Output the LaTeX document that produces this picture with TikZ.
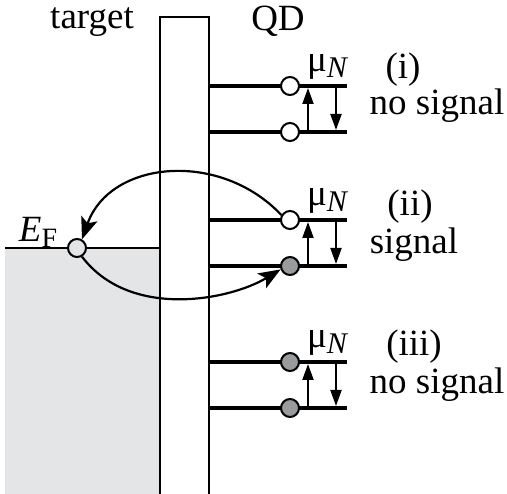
\documentclass[tikz,border=0pt]{standalone}
\usepackage{fontspec}
\setmainfont{Liberation Serif}[Ligatures=TeX]
\newfontfamily\timesfont{Liberation Serif}
\usetikzlibrary{arrows.meta}
\definecolor{regiongray}{HTML}{E4E5E7}
\definecolor{dotgray}{HTML}{9A9B9D}
\tikzset{
  lbl/.style={inner sep=0pt, font=\timesfont\fontsize{37}{40}\selectfont},
  level/.style={line width=4pt},
  wall/.style={line width=2.5pt},
  dot/.style={circle, draw, line width=2pt, minimum size=18pt, inner sep=0pt},
  emptydot/.style={dot, fill=white},
  fulldot/.style={dot, fill=dotgray},
  trans/.style={line width=2pt, -{Triangle[length=16pt,width=11pt]}},
  hop/.style={line width=2.2pt, -{Stealth[length=22pt,width=17pt,inset=5pt]}},
}
\newcommand{\muN}{μ\raisebox{-0.35ex}{\fontsize{30}{30}\selectfont\itshape N}}
\begin{document}
\begin{tikzpicture}[x=1pt,y=-1pt]
\useasboundingbox (0,0) rectangle (507,494);
% target region
\fill[regiongray] (5,248) rectangle (160,494);
\draw[line width=2pt] (5,248) -- (160,248);
% barrier
\draw[wall] (160,494) -- (160,17) -- (209,17) -- (209,494);
% labels
\node[lbl] (target) at (92,22) {target};
\node[lbl] (qd) at (278,21) {QD};
\node[lbl] (ef) at (38,232) {\textit{E}\raisebox{-0.35ex}{\fontsize{28}{28}\selectfont F}};
% levels
\foreach \name/\yu/\yl in {a/86/132, b/220/266, c/362/408}{
  \coordinate (\name u0) at (209,\yu);
  \coordinate (\name u1) at (347,\yu);
  \coordinate (\name l0) at (209,\yl);
  \coordinate (\name l1) at (347,\yl);
  \draw[level] (\name u0) -- (\name u1);
  \draw[level] (\name l0) -- (\name l1);
  \coordinate (\name upb) at (308,\yl);
  \coordinate (\name upt) at (308,{\yu+2});
  \coordinate (\name dnt) at (336,{\yl-2});
  \coordinate (\name dnb) at (336,\yu);
  \draw[trans] (\name upb) -- (\name upt);
  \draw[trans] (\name dnb) -- (\name dnt);
}
% dots
\node[emptydot] (a1) at (290,86) {};
\node[emptydot] (a2) at (290,132) {};
\node[emptydot] (b1) at (290,220) {};
\node[fulldot] (b2) at (290,266) {};
\node[fulldot] (c1) at (290,362) {};
\node[fulldot] (c2) at (290,408) {};
\node[dot, fill=regiongray] (e) at (77,248) {};
% mu_N labels
\node[lbl] (mua) at (327,67) {\muN};
\node[lbl] (mub) at (327,201) {\muN};
\node[lbl] (muc) at (327,343) {\muN};
% case labels
\node[lbl] (i) at (403,70) {(i)};
\node[lbl] (ns1) at (437,106) {no signal};
\node[lbl] (ii) at (410,207) {(ii)};
\node[lbl] (sig) at (414,245) {signal};
\node[lbl] (iii) at (414,347) {(iii)};
\node[lbl] (ns3) at (437,385) {no signal};
% tunnelling arrows
\draw[hop] (b1.150) .. controls (220,150) and (110,160) .. (e.60);
\draw[hop] (e.300) .. controls (130,320) and (230,300) .. (b2.200);
\end{tikzpicture}
\end{document}
